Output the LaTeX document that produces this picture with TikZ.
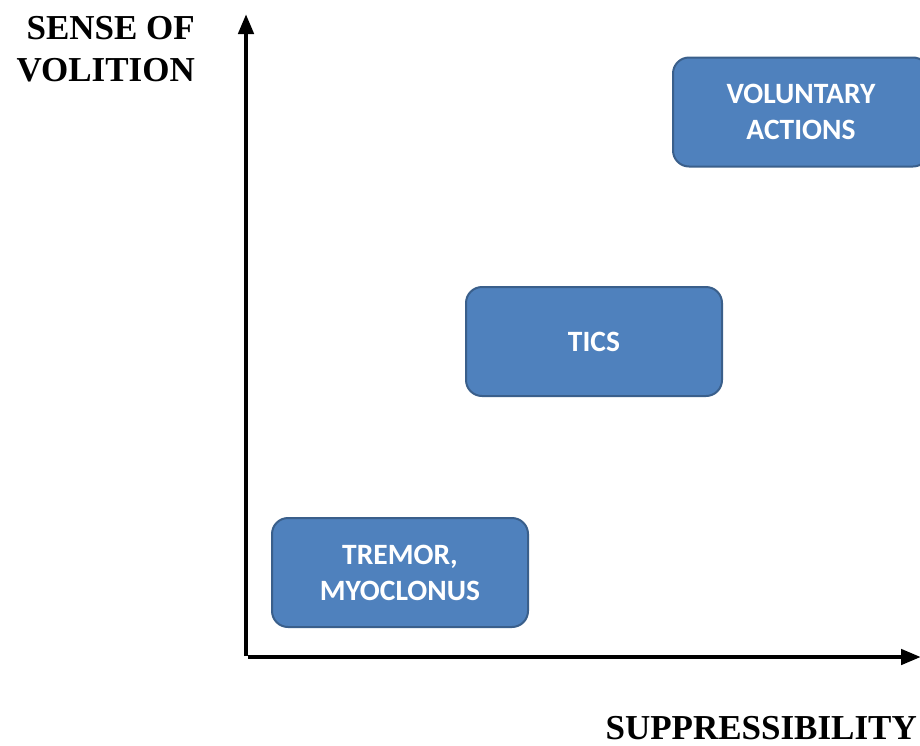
\documentclass[tikz,border=0pt]{standalone}
\usepackage{fontspec}
\setmainfont{Liberation Serif}
\newfontfamily\boxfont{Carlito}
\usetikzlibrary{arrows.meta}
\definecolor{boxfill}{HTML}{4F81BD}
\definecolor{boxline}{HTML}{3A5F8B}
\tikzset{
  phenom/.style={draw=boxline, line width=2pt, fill=boxfill, rounded corners=16pt,
    minimum width=256pt, minimum height=109pt, align=center, text=white,
    font=\boxfont\bfseries\fontsize{29.5}{36}\selectfont},
  axislabel/.style={font=\bfseries\fontsize{35}{42}\selectfont, inner sep=0pt},
  axisline/.style={line width=4.5pt, -{Triangle[length=20pt,width=15pt]}}
}
\begin{document}
\begin{tikzpicture}[x=1pt,y=-1pt]
\useasboundingbox (0,0) rectangle (920,745);
\begin{scope}
\clip (0,0) rectangle (920,745);
\node[phenom] (vol) at (801,112) {VOLUNTARY\\ACTIONS};
\node[phenom] (tics) at (594,341.5) {TICS};
\node[phenom] (trem) at (400,572.5) {TREMOR,\\MYOCLONUS};
\coordinate (origin) at (246,656);
\coordinate (ytop) at (246,14);
\coordinate (xorig) at (248,657);
\coordinate (xend) at (921,657);
\draw[axisline] (origin) -- (ytop);
\draw[axisline] (xorig) -- (xend);
\end{scope}
\node[axislabel, align=right, anchor=base east] (ylab) at (195,81) {SENSE OF\\VOLITION};
\node[axislabel, anchor=base east] (xlab) at (917,739) {SUPPRESSIBILITY};
\end{tikzpicture}
\end{document}
